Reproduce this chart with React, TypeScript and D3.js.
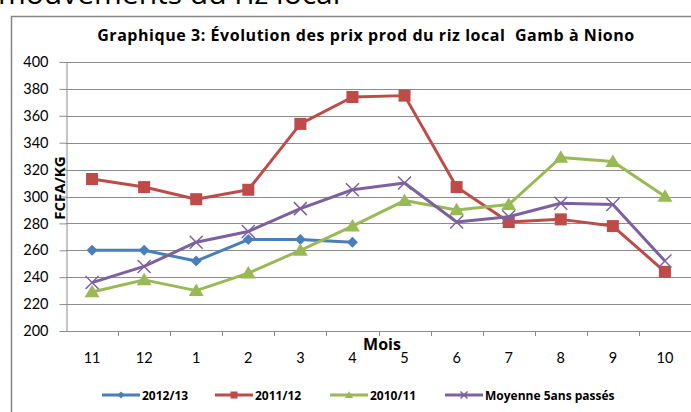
import React, { useEffect, useRef } from 'react';
import * as d3 from 'd3';

const months = ['11', '12', '1', '2', '3', '4', '5', '6', '7', '8', '9', '10'];
const yTicks = [200, 220, 240, 260, 280, 300, 320, 340, 360, 380, 400];

const s2012 = [260, 260, 252, 268, 268, 266];
const s2011 = [313, 307, 298, 305, 354, 374, 375, 307, 281, 283, 278, 244];
const s2010 = [229, 238, 230, 243, 260, 278, 297, 290, 294, 329, 326, 300];
const sMoy = [236, 248, 266, 274, 291, 305, 310, 281, 285, 295, 294, 252];

const seriesNames = ['2012/13', '2011/12', '2010/11', 'Moyenne 5ans passés'];
const seriesColors = ['#4A7EBB', '#BE4B48', '#98B954', '#7D60A0'];
const seriesMarkers = ['diamond', 'square', 'triangle', 'cross'];

const FONT = 'Lato, "Open Sans", sans-serif';
const BOLD = '"Open Sans", Lato, sans-serif';

export default function App() {
  const svgRef = useRef<SVGSVGElement>(null);

  useEffect(() => {
    if (!svgRef.current) return;
    const width = 691;
    const height = 412;
    const svg = d3.select(svgRef.current);
    svg.selectAll('*').remove();

    const margin = { top: 62, right: 0, bottom: 81, left: 66 };
    const innerH = height - margin.top - margin.bottom;

    // page heading, cut off at the top
    svg.append('text')
      .attr('x', -2).attr('y', 4)
      .text('mouvements du riz local')
      .style('font-family', '"Open Sans", sans-serif')
      .style('font-size', '30px')
      .style('fill', '#000');

    // chart frame
    svg.append('rect')
      .attr('x', 11.5).attr('y', 16.5)
      .attr('width', width).attr('height', height)
      .attr('fill', '#fff')
      .attr('stroke', '#868686')
      .attr('stroke-width', 1.5);

    svg.append('text')
      .attr('x', 366).attr('y', 41)
      .attr('text-anchor', 'middle')
      .text('Graphique 3: Évolution des prix prod du riz local  Gamb à Niono')
      .style('font-family', BOLD)
      .style('font-weight', 'bold')
      .style('font-size', '16px')
      .style('letter-spacing', '0.55px')
      .style('white-space', 'pre')
      .style('fill', '#000');

    const x = d3.scaleBand()
      .domain(months)
      .range([margin.left, width - margin.right]);

    const y = d3.scaleLinear()
      .domain([200, 400])
      .range([margin.top + innerH, margin.top]);

    const g = svg.append('g');

    // grid
    g.append('g')
      .selectAll('line')
      .data(yTicks.filter(t => t > 200))
      .join('line')
      .attr('x1', margin.left).attr('x2', width)
      .attr('y1', d => Math.round(y(d)) + 0.5)
      .attr('y2', d => Math.round(y(d)) + 0.5)
      .attr('stroke', '#8c8c8c')
      .attr('stroke-width', 1);

    // y axis
    const yAxis = g.append('g')
      .attr('transform', `translate(${margin.left + 0.5},0)`)
      .call(d3.axisLeft(y).tickValues(yTicks).tickSize(7).tickSizeOuter(0).tickPadding(11));
    yAxis.select('.domain').attr('stroke', '#8c8c8c');
    yAxis.selectAll('line').attr('stroke', '#8c8c8c');
    yAxis.selectAll('text')
      .style('font-family', FONT)
      .style('font-size', '14.5px')
      .style('fill', '#000');

    // x axis
    const xAxis = g.append('g')
      .attr('transform', `translate(0,${Math.round(y(200)) + 0.5})`)
      .call(d3.axisBottom(x).tickSize(0).tickPadding(21));
    xAxis.select('.domain').attr('stroke', '#8c8c8c').attr('d', `M${margin.left},0H${width}`);
    xAxis.selectAll('text')
      .style('font-family', FONT)
      .style('font-size', '14.5px')
      .style('fill', '#000');
    // tick marks at category boundaries
    g.append('g')
      .selectAll('line')
      .data(months.slice(1))
      .join('line')
      .attr('x1', d => Math.round(x(d)!) + 0.5)
      .attr('x2', d => Math.round(x(d)!) + 0.5)
      .attr('y1', y(200))
      .attr('y2', y(200) + 5)
      .attr('stroke', '#8c8c8c');

    // axis titles
    svg.append('text')
      .attr('transform', `translate(65,${188}) rotate(-90)`)
      .attr('text-anchor', 'middle')
      .text('FCFA/KG')
      .style('font-family', BOLD)
      .style('font-weight', 'bold')
      .style('font-size', '15px')
      .style('fill', '#000');

    svg.append('text')
      .attr('x', 382).attr('y', 350)
      .attr('text-anchor', 'middle')
      .text('Mois')
      .style('font-family', BOLD)
      .style('font-weight', 'bold')
      .style('font-size', '16px')
      .style('fill', '#000');

    const drawMarker = (sel: d3.Selection<SVGGElement, unknown, null, undefined>, kind: string, color: string, size: number) => {
      if (kind === 'diamond') {
        sel.append('path').attr('d', `M0,${-size}L${size},0L0,${size}L${-size},0Z`).attr('fill', color);
      } else if (kind === 'square') {
        sel.append('rect').attr('x', -size).attr('y', -size).attr('width', size * 2).attr('height', size * 2).attr('fill', color);
      } else if (kind === 'triangle') {
        const h = size * 1.1;
        sel.append('path').attr('d', `M0,${-h}L${size * 1.15},${h * 0.75}L${-size * 1.15},${h * 0.75}Z`).attr('fill', color);
      } else {
        sel.append('path').attr('d', `M${-size},${-size}L${size},${size}M${-size},${size}L${size},${-size}`)
          .attr('stroke', color).attr('stroke-width', 1.5).attr('fill', 'none');
      }
    };

    const allSeries = [s2012, s2011, s2010, sMoy];
    const cx = (i: number) => x(months[i])! + x.bandwidth() / 2;
    const line = d3.line<number>().x((_, i) => cx(i)).y(d => y(d));
    const markerSizes = [5.5, 6, 6.5, 6.5];

    allSeries.forEach((data, si) => {
      const color = seriesColors[si];
      g.append('path')
        .datum(data)
        .attr('d', line)
        .attr('fill', 'none')
        .attr('stroke', color)
        .attr('stroke-width', 3)
        .attr('stroke-linejoin', 'round');
      data.forEach((v, i) => {
        const m = g.append('g').attr('transform', `translate(${cx(i)},${y(v)})`);
        drawMarker(m, seriesMarkers[si], color, markerSizes[si]);
      });
    });

    // legend
    const legendX = [102, 215, 330, 445];
    seriesNames.forEach((name, i) => {
      const lg = svg.append('g').attr('transform', `translate(${legendX[i]},${395})`);
      lg.append('line').attr('x1', 0).attr('x2', 38).attr('y1', 0).attr('y2', 0)
        .attr('stroke', seriesColors[i]).attr('stroke-width', 3);
      const m = lg.append('g').attr('transform', 'translate(19,0)');
      drawMarker(m, seriesMarkers[i], seriesColors[i], 3.5);
      lg.append('text')
        .attr('x', 40).attr('y', 4.5)
        .text(name)
        .style('font-family', BOLD)
        .style('font-weight', 'bold')
        .style('font-size', '12px')
        .style('fill', '#000');
    });
  }, []);

  return (
    <svg
      ref={svgRef}
      width={691}
      height={412}
      style={{ position: 'absolute', left: 0, top: 0, background: '#fff' }}
    />
  );
}
